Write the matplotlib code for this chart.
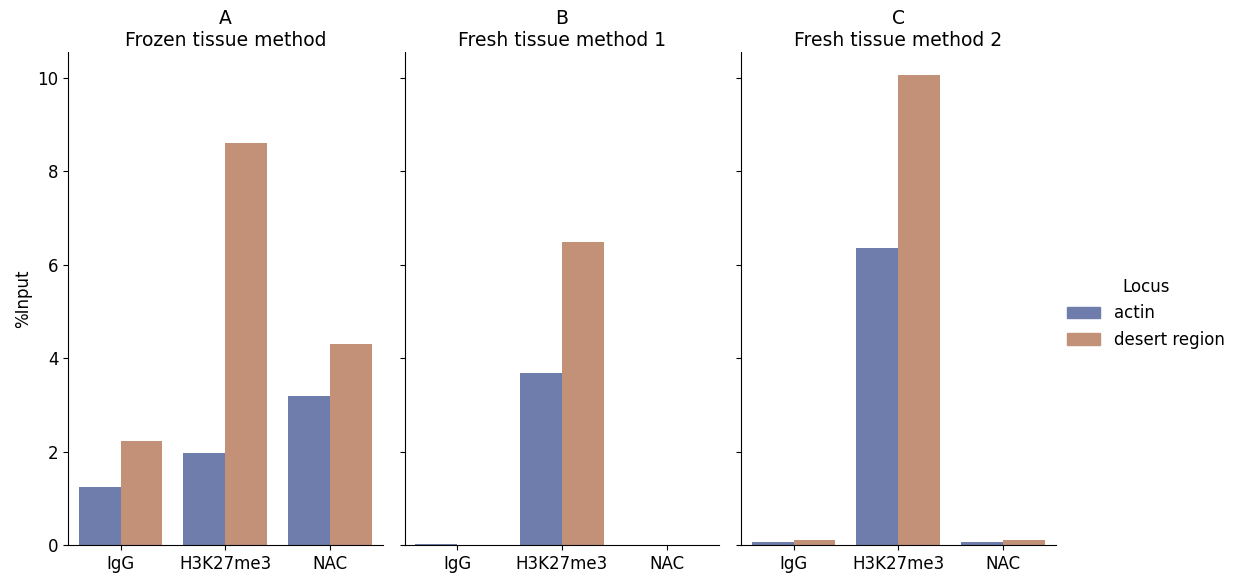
import numpy as np
import matplotlib
matplotlib.use("Agg")
import matplotlib.pyplot as plt
from matplotlib.patches import Patch

antibodies = ["IgG", "H3K27me3", "NAC"]
loci = ["actin", "desert region"]
panels = ["A\nFrozen tissue method", "B\nFresh tissue method 1", "C\nFresh tissue method 2"]

# %Input per panel, rows = locus, cols = antibody
frozen = [[1.24, 1.97, 3.19],
          [2.23, 8.61, 4.30]]
fresh1 = [[0.02, 3.68, 0.005],
          [0.01, 6.49, 0.01]]
fresh2 = [[0.06, 6.36, 0.06],
          [0.10, 10.06, 0.10]]
data = [frozen, fresh1, fresh2]

colors = ["#6e7dab", "#c39078"]

plt.rcParams['font.size'] = 12
fig, axes = plt.subplots(1, 3, figsize=(12.39, 5.75), dpi=100, sharey=True)
fig.subplots_adjust(left=0.055, right=0.852, bottom=0.052, top=0.91, wspace=0.07)

x = np.arange(len(antibodies))
w = 0.4
for ax, title, vals in zip(axes, panels, data):
    for i, locus in enumerate(loci):
        ax.bar(x - w / 2 + i * w, vals[i], width=w, color=colors[i], label=locus)
    ax.set_xticks(x)
    ax.set_xticklabels(antibodies)
    ax.set_xlim(-0.5, 2.5)
    ax.set_title(title, fontsize=13.5, pad=4)
    ax.spines['top'].set_visible(False)
    ax.spines['right'].set_visible(False)
    ax.tick_params(labelsize=12)

axes[0].set_ylabel("%Input")
axes[0].set_ylim(0, 10.56)
axes[0].set_yticks([0, 2, 4, 6, 8, 10])

handles = [Patch(color=c, label=l) for c, l in zip(colors, loci)]
fig.legend(handles=handles, title="Locus", loc="center left", bbox_to_anchor=(0.849, 0.455),
           frameon=False, fontsize=12, title_fontsize=12)

fig.savefig("out.png", dpi=100)
